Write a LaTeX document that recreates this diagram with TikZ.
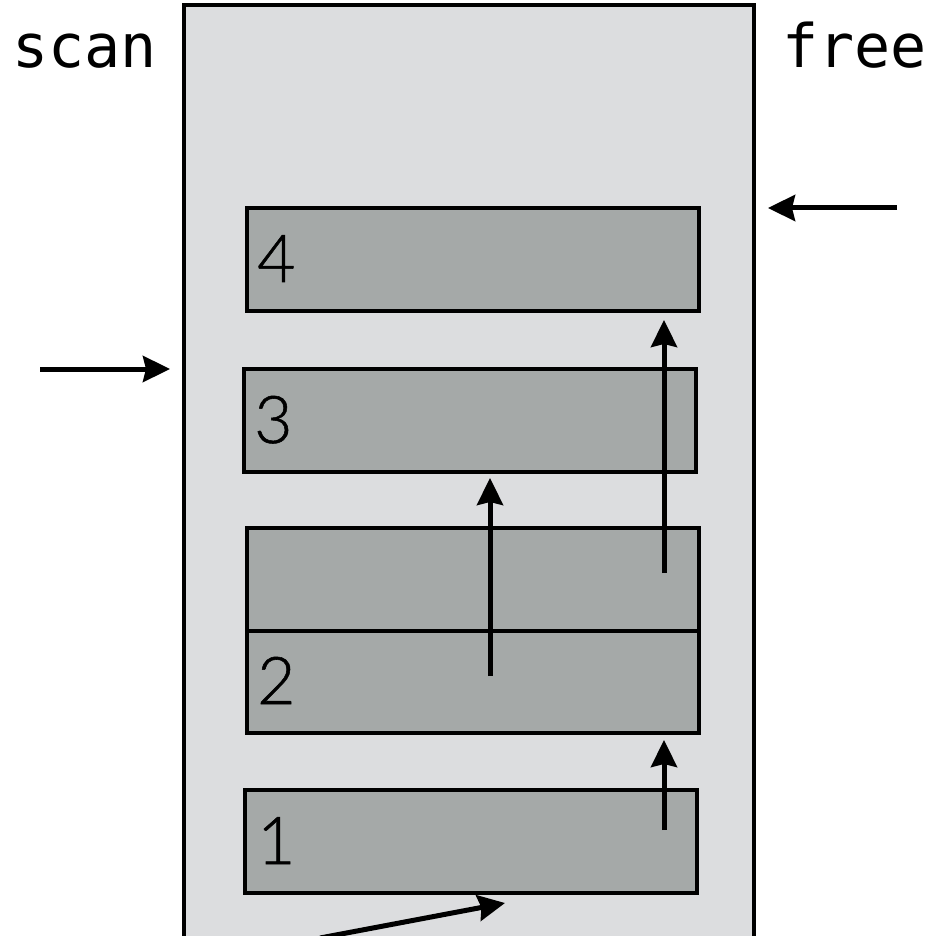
\documentclass[tikz,border=0pt]{standalone}
\usepackage{fontspec}
\usetikzlibrary{arrows.meta}
\newfontfamily\monofont{DejaVu Sans Mono}
\newfontfamily\numfont{Lato}[UprightFont=* Light, FakeBold=0.8]
\definecolor{outerfill}{HTML}{DCDDDF}
\definecolor{boxfill}{HTML}{A5A9A8}
\begin{document}
\begin{tikzpicture}[x=1pt,y=-1pt,
  blk/.style={draw=black, line width=4pt, fill=boxfill, inner sep=0pt, outer sep=0pt,
    minimum width=452pt, minimum height=103pt, anchor=north west},
  num/.style={font=\numfont\fontsize{66}{70}\selectfont, inner sep=0pt, anchor=base west},
  lbl/.style={font=\monofont\fontsize{60}{64}\selectfont, inner sep=0pt, anchor=base west},
  arr/.style={line width=5pt, -{Stealth[length=27pt,width=26pt,inset=3pt]}}]
\useasboundingbox (0,0) rectangle (938,936);
\begin{scope}
\clip (0,0) rectangle (938,936);
\draw[line width=4pt, fill=outerfill] (184,5) rectangle (754,960);
\end{scope}
\node[blk] (b4) at (247,208) {};
\node[blk] (b3) at (244,369) {};
\node[blk, minimum height=205pt] (b2) at (247,528) {};
\draw[line width=4pt] (b2.west) -- (b2.east);
\node[blk] (b1) at (245,790) {};
\node[num] (n4) at (257,282) {4};
\node[num] (n3) at (254,443) {3};
\node[num] (n2) at (257,704) {2};
\node[num] (n1) at (257,864) {1};
\node[lbl] (scan) at (12,68) {scan};
\node[lbl] (free) at (782,68) {free};
\coordinate (ls) at (40,369); \coordinate (le) at (170,369);
\coordinate (rs) at (897,208); \coordinate (re) at (768,208);
\coordinate (u1s) at (490,676); \coordinate (u1e) at (490,478);
\coordinate (u2s) at (664,573); \coordinate (u2e) at (664,320);
\coordinate (u3s) at (664,830); \coordinate (u3e) at (664,740);
\coordinate (bs) at (320,938); \coordinate (be) at (505,903);
\draw[arr] (ls) -- (le);
\draw[arr] (rs) -- (re);
\draw[arr] (u1s) -- (u1e);
\draw[arr] (u2s) -- (u2e);
\draw[arr] (u3s) -- (u3e);
\begin{scope}
\clip (0,0) rectangle (938,936);
\draw[arr] (bs) -- (be);
\end{scope}
\end{tikzpicture}
\end{document}
